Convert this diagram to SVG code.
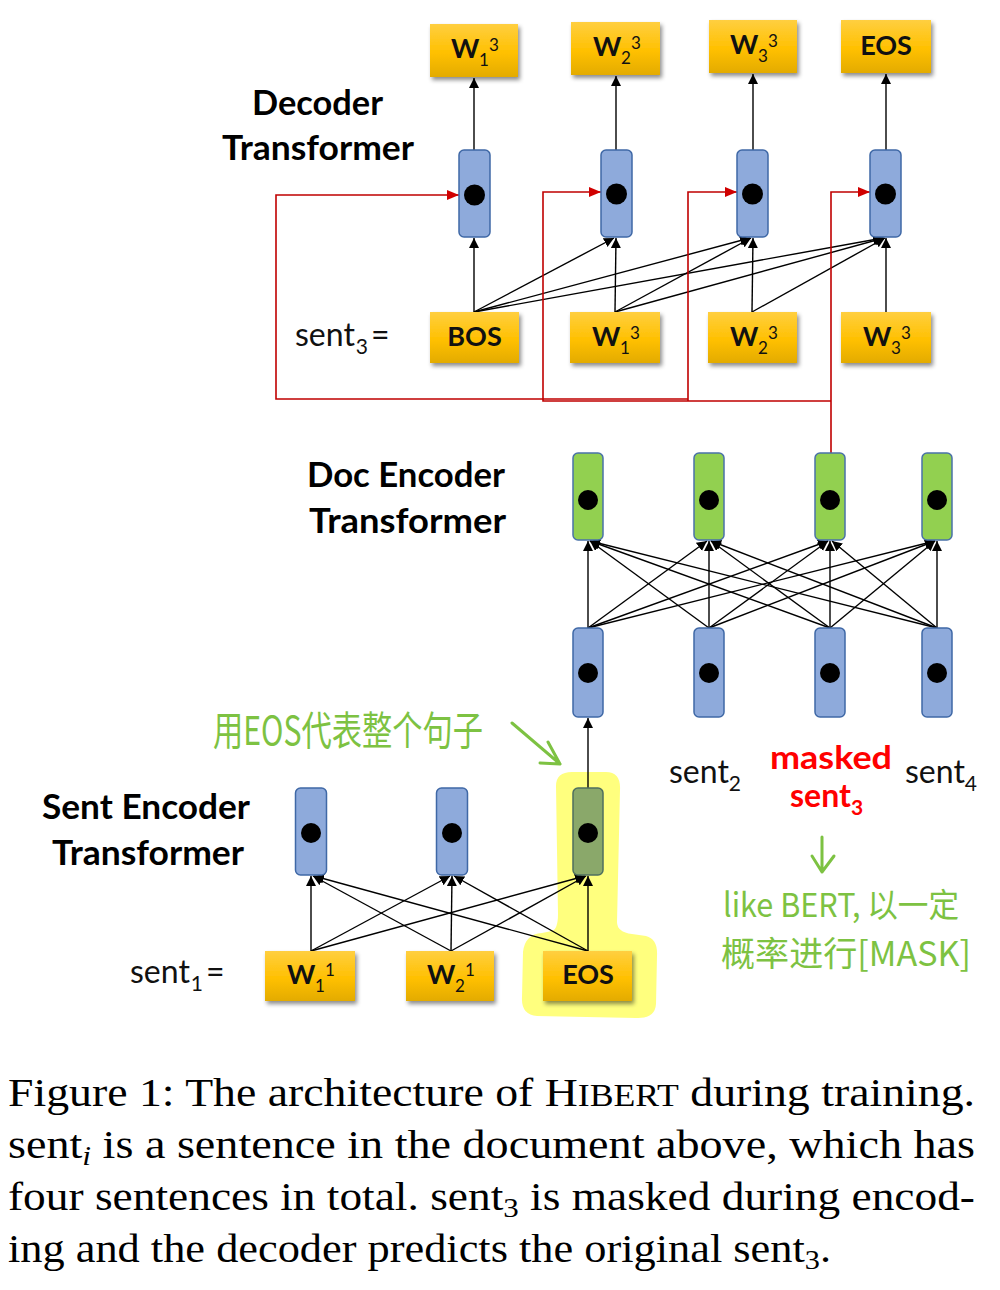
<svg xmlns="http://www.w3.org/2000/svg" width="1000" height="1290" viewBox="0 0 1000 1290">
<defs>
<style>
.lbl{font-family:Lato,"Liberation Sans",sans-serif;font-weight:bold;font-size:34px;fill:#000}
.tok{font-family:Lato,"Liberation Sans",sans-serif;font-weight:bold;font-size:27px;fill:#111}
.ss{font-weight:normal;font-size:17px}
.snt{font-family:Lato,"Liberation Sans",sans-serif;font-size:32px;fill:#111}
.sub{font-size:21px}
.red{fill:#FF0000;font-weight:bold}
.hw{font-family:"Noto Sans CJK SC",sans-serif;font-weight:400;fill:#7DC242}
.cap{font-family:"Liberation Serif","Times New Roman",serif;font-size:41px;fill:#000}
.box{fill:url(#yg);filter:url(#sh)}
.bn{fill:#8EAADB;stroke:#3F68A6;stroke-width:1.5}
.gn{fill:#92D050;stroke:#4A72A8;stroke-width:1.5}
.on{fill:#8AA86A;stroke:#4F6F5F;stroke-width:1.5}
.dot{fill:#000}
.c{stroke:#000;stroke-width:1.4;fill:none;marker-end:url(#ah)}
.r{stroke:#C00000;stroke-width:1.6;fill:none;marker-end:url(#rh)}
.g{stroke:#7DC242;stroke-width:3;fill:none;stroke-linecap:round;stroke-linejoin:round}
</style>
<linearGradient id="yg" x1="0" y1="0" x2="0" y2="1">
<stop offset="0" stop-color="#FFCF40"/>
<stop offset="0.55" stop-color="#FFC000"/>
<stop offset="1" stop-color="#E3AB00"/>
</linearGradient>
<filter id="sh" x="-20%" y="-20%" width="140%" height="150%">
<feDropShadow dx="2" dy="3" stdDeviation="2" flood-color="#000" flood-opacity="0.45"/>
</filter>
<marker id="ah" markerUnits="userSpaceOnUse" markerWidth="12" markerHeight="12" refX="10" refY="5" orient="auto">
<path d="M0,0 L10,5 L0,10 z" fill="#000"/>
</marker>
<marker id="rh" markerUnits="userSpaceOnUse" markerWidth="14" markerHeight="12" refX="12" refY="5" orient="auto">
<path d="M0,0 L12,5 L0,10 z" fill="#D00000"/>
</marker>
</defs>
<rect width="1000" height="1290" fill="#fff"/>

<!-- yellow highlight -->
<path id="highlight" d="M556 786 Q556 772 572 772 L606 772 Q621 772 620 790 L617 922 Q617 932 632 934 L646 936 Q658 939 657 956 L656 1004 Q655 1019 636 1018 L537 1016 Q521 1015 522 997 L523 952 Q525 934 542 933 L552 931 Q558 929 558 914 Z" fill="#FFFF70" opacity="0.9"/>

<!-- labels -->
<g id="labels">
<text class="lbl" x="252" y="115" textLength="131" lengthAdjust="spacingAndGlyphs">Decoder</text>
<text class="lbl" x="222" y="160" textLength="192" lengthAdjust="spacingAndGlyphs">Transformer</text>
<text class="lbl" x="307" y="487" textLength="198" lengthAdjust="spacingAndGlyphs">Doc Encoder</text>
<text class="lbl" x="309" y="533" textLength="197" lengthAdjust="spacingAndGlyphs">Transformer</text>
<text class="lbl" x="42" y="819" textLength="208" lengthAdjust="spacingAndGlyphs">Sent Encoder</text>
<text class="lbl" x="52" y="865" textLength="192" lengthAdjust="spacingAndGlyphs">Transformer</text>
<text class="snt" x="295" y="346">sent<tspan class="sub" dx="1" dy="8">3</tspan><tspan dx="3" dy="-8">=</tspan></text>
<text class="snt" x="130" y="983">sent<tspan class="sub" dx="1" dy="8">1</tspan><tspan dx="3" dy="-8">=</tspan></text>
<text class="snt" x="669" y="783">sent<tspan class="sub" dy="8">2</tspan></text>
<text class="snt" x="905" y="783">sent<tspan class="sub" dy="8">4</tspan></text>
<text class="snt red" x="770" y="769" textLength="122" lengthAdjust="spacingAndGlyphs">masked</text>
<text class="snt red" x="790" y="807">sent<tspan class="sub" dy="8">3</tspan></text>
</g>

<!-- green annotations -->
<g id="annotations">
<text class="hw" x="213" y="745" font-size="40" textLength="270" lengthAdjust="spacingAndGlyphs">用EOS代表整个句子</text>
<path class="g" d="M512 723 L560 764 M548 742 L560 764 L540 763"/>
<path class="g" d="M822 837 L822 872 M812 856 L822 872 L834 856"/>
<text class="hw" x="723" y="917" font-size="33" textLength="236" lengthAdjust="spacingAndGlyphs">like BERT, 以一定</text>
<text class="hw" x="721" y="966" font-size="34" textLength="250" lengthAdjust="spacingAndGlyphs">概率进行[MASK]</text>
</g>

<!-- connectors -->
<g id="connectors">
<line class="c" x1="474" y1="150" x2="474" y2="78"/>
<line class="c" x1="616" y1="150" x2="616" y2="76"/>
<line class="c" x1="753" y1="150" x2="753" y2="74"/>
<line class="c" x1="886" y1="150" x2="886" y2="74"/>
<line class="c" x1="474" y1="312" x2="474" y2="238"/>
<line class="c" x1="474" y1="312" x2="614" y2="238"/>
<line class="c" x1="474" y1="312" x2="750" y2="238"/>
<line class="c" x1="474" y1="312" x2="883" y2="238"/>
<line class="c" x1="615" y1="312" x2="616" y2="238"/>
<line class="c" x1="615" y1="312" x2="751" y2="238"/>
<line class="c" x1="615" y1="312" x2="884" y2="238"/>
<line class="c" x1="752" y1="312" x2="753" y2="238"/>
<line class="c" x1="752" y1="312" x2="885" y2="238"/>
<line class="c" x1="886" y1="312" x2="886" y2="238"/>
<path class="r" d="M831 453 V192 H870"/>
<path class="r" d="M831 401 H543 V192 H601"/>
<path class="r" d="M688 401 V192 H737"/>
<path class="r" d="M688 399 H276 V195 H459"/>
<line class="c" x1="588" y1="628" x2="588" y2="541"/>
<line class="c" x1="588" y1="628" x2="707" y2="541"/>
<line class="c" x1="588" y1="628" x2="828" y2="541"/>
<line class="c" x1="588" y1="628" x2="935" y2="541"/>
<line class="c" x1="709" y1="628" x2="590" y2="541"/>
<line class="c" x1="709" y1="628" x2="709" y2="541"/>
<line class="c" x1="709" y1="628" x2="828" y2="541"/>
<line class="c" x1="709" y1="628" x2="935" y2="541"/>
<line class="c" x1="830" y1="628" x2="590" y2="541"/>
<line class="c" x1="830" y1="628" x2="711" y2="541"/>
<line class="c" x1="830" y1="628" x2="830" y2="541"/>
<line class="c" x1="830" y1="628" x2="935" y2="541"/>
<line class="c" x1="937" y1="628" x2="590" y2="541"/>
<line class="c" x1="937" y1="628" x2="711" y2="541"/>
<line class="c" x1="937" y1="628" x2="832" y2="541"/>
<line class="c" x1="937" y1="628" x2="937" y2="541"/>
<line class="c" x1="588" y1="788" x2="588" y2="718"/>
<line class="c" x1="311" y1="951" x2="311" y2="876"/>
<line class="c" x1="311" y1="951" x2="450" y2="876"/>
<line class="c" x1="311" y1="951" x2="585" y2="876"/>
<line class="c" x1="451" y1="951" x2="313" y2="876"/>
<line class="c" x1="451" y1="951" x2="452" y2="876"/>
<line class="c" x1="451" y1="951" x2="586" y2="876"/>
<line class="c" x1="588" y1="951" x2="314" y2="876"/>
<line class="c" x1="588" y1="951" x2="454" y2="876"/>
<line class="c" x1="588" y1="951" x2="588" y2="876"/>
</g>

<g id="out1"><rect class="box" x="430" y="24" width="88" height="53"/><text class="tok" x="451" y="58">W<tspan class="ss" x="479" y="66">1</tspan><tspan class="ss" x="489" y="51">3</tspan></text></g>
<g id="out2"><rect class="box" x="571" y="22" width="89" height="53"/><text class="tok" x="593" y="56">W<tspan class="ss" x="621" y="64">2</tspan><tspan class="ss" x="631" y="49">3</tspan></text></g>
<g id="out3"><rect class="box" x="709" y="20" width="88" height="53"/><text class="tok" x="730" y="54">W<tspan class="ss" x="758" y="62">3</tspan><tspan class="ss" x="768" y="47">3</tspan></text></g>
<g id="out4"><rect class="box" x="841" y="20" width="90" height="53"/><text class="tok" x="886" y="55" text-anchor="middle">EOS</text></g>

<g id="dec1"><rect class="bn" x="459" y="150" width="31" height="87" rx="5"/><circle class="dot" cx="474.5" cy="195" r="10.5"/></g>
<g id="dec2"><rect class="bn" x="601" y="150" width="31" height="87" rx="5"/><circle class="dot" cx="616.5" cy="194" r="10.5"/></g>
<g id="dec3"><rect class="bn" x="737" y="150" width="31" height="87" rx="5"/><circle class="dot" cx="752.5" cy="194" r="10.5"/></g>
<g id="dec4"><rect class="bn" x="870" y="150" width="31" height="87" rx="5"/><circle class="dot" cx="885.5" cy="194" r="10.5"/></g>

<g id="in_bos"><rect class="box" x="430" y="312" width="89" height="51"/><text class="tok" x="474.5" y="346" text-anchor="middle">BOS</text></g>
<g id="in_w1"><rect class="box" x="570" y="312" width="90" height="51"/><text class="tok" x="592" y="346">W<tspan class="ss" x="620" y="354">1</tspan><tspan class="ss" x="630" y="339">3</tspan></text></g>
<g id="in_w2"><rect class="box" x="708" y="312" width="89" height="51"/><text class="tok" x="730" y="346">W<tspan class="ss" x="758" y="354">2</tspan><tspan class="ss" x="768" y="339">3</tspan></text></g>
<g id="in_w3"><rect class="box" x="841" y="312" width="90" height="51"/><text class="tok" x="863" y="346">W<tspan class="ss" x="891" y="354">3</tspan><tspan class="ss" x="901" y="339">3</tspan></text></g>

<g id="doc_up1"><rect class="gn" x="573" y="453" width="30" height="87" rx="5"/><circle class="dot" cx="588" cy="500" r="10"/></g>
<g id="doc_up2"><rect class="gn" x="694" y="453" width="30" height="87" rx="5"/><circle class="dot" cx="709" cy="500" r="10"/></g>
<g id="doc_up3"><rect class="gn" x="815" y="453" width="30" height="87" rx="5"/><circle class="dot" cx="830" cy="500" r="10"/></g>
<g id="doc_up4"><rect class="gn" x="922" y="453" width="30" height="87" rx="5"/><circle class="dot" cx="937" cy="500" r="10"/></g>

<g id="doc_lo1"><rect class="bn" x="573" y="628" width="30" height="89" rx="5"/><circle class="dot" cx="588" cy="673" r="10"/></g>
<g id="doc_lo2"><rect class="bn" x="694" y="628" width="30" height="89" rx="5"/><circle class="dot" cx="709" cy="673" r="10"/></g>
<g id="doc_lo3"><rect class="bn" x="815" y="628" width="30" height="89" rx="5"/><circle class="dot" cx="830" cy="673" r="10"/></g>
<g id="doc_lo4"><rect class="bn" x="922" y="628" width="30" height="89" rx="5"/><circle class="dot" cx="937" cy="673" r="10"/></g>

<g id="sent1"><rect class="bn" x="295.5" y="788" width="31" height="87" rx="5"/><circle class="dot" cx="311" cy="833" r="10"/></g>
<g id="sent2"><rect class="bn" x="436.5" y="788" width="31" height="87" rx="5"/><circle class="dot" cx="452" cy="833" r="10"/></g>
<g id="sent3"><rect class="on" x="573" y="788" width="30" height="87" rx="5"/><circle class="dot" cx="588" cy="833" r="10"/></g>

<g id="s_w1"><rect class="box" x="265" y="951" width="90" height="50"/><text class="tok" x="287" y="984">W<tspan class="ss" x="315" y="992">1</tspan><tspan class="ss" x="325" y="976">1</tspan></text></g>
<g id="s_w2"><rect class="box" x="406" y="951" width="88" height="50"/><text class="tok" x="427" y="984">W<tspan class="ss" x="455" y="992">2</tspan><tspan class="ss" x="465" y="976">1</tspan></text></g>
<g id="s_eos"><rect class="box" x="543" y="951" width="89" height="50"/><text class="tok" x="588" y="984" text-anchor="middle">EOS</text></g>

<g id="caption">
<text class="cap" x="8" y="1106" textLength="967" lengthAdjust="spacingAndGlyphs">Figure 1: The architecture of H<tspan font-size="32">IBERT</tspan> during training.</text>
<text class="cap" x="8" y="1158" textLength="967" lengthAdjust="spacingAndGlyphs">sent<tspan font-size="28" font-style="italic" dy="7">i</tspan><tspan dy="-7"> is a sentence in the document above, which has</tspan></text>
<text class="cap" x="8" y="1210" textLength="967" lengthAdjust="spacingAndGlyphs">four sentences in total. sent<tspan font-size="28" dy="7">3</tspan><tspan dy="-7"> is masked during encod-</tspan></text>
<text class="cap" x="8" y="1262" textLength="823" lengthAdjust="spacingAndGlyphs">ing and the decoder predicts the original sent<tspan font-size="28" dy="7">3</tspan><tspan dy="-7">.</tspan></text>
</g>
</svg>
